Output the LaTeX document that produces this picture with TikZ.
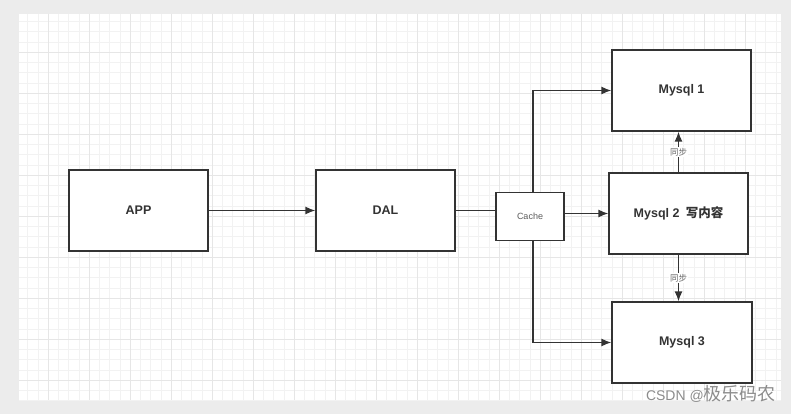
\documentclass[tikz,border=0pt]{standalone}
\usepackage{fontspec}
\setmainfont{Liberation Sans}
\newfontfamily\cjk{Noto Sans CJK SC}
\usetikzlibrary{arrows.meta,calc}
\definecolor{bggrey}{HTML}{ECECEC}
\definecolor{minorgrid}{HTML}{F2F2F2}
\definecolor{majorgrid}{HTML}{E6E6E6}
\definecolor{ink}{HTML}{333333}
\tikzset{
  box/.style={draw=ink, line width=1.3pt, fill=white, minimum width=139pt, minimum height=81pt, inner sep=0pt, font=\fontsize{12.5}{14}\selectfont\bfseries, text=ink},
  cachebox/.style={draw=ink, line width=1.3pt, fill=white, minimum width=68pt, minimum height=48.5pt, inner sep=0pt, font=\fontsize{9}{11}\selectfont, text=ink!80},
  conn/.style={draw=ink, line width=1.3pt},
  arr/.style={conn, -{Latex[length=10pt,width=8pt]}},
  synclabel/.style={fill=white, inner sep=1pt, font=\cjk\fontsize{8.5}{10}\selectfont, text=ink!75},
}
\begin{document}
\begin{tikzpicture}[x=1pt,y=-1pt]
  \useasboundingbox (0,0) rectangle (791,414);
  \fill[bggrey] (0,0) rectangle (791,414);
  \fill[white] (19,14) rectangle (781,400);
  \begin{scope}
    \clip (19,14) rectangle (781,400);
    \foreach \i in {-4,...,72} {
      \draw[minorgrid, line width=0.7pt] ({48.3+10.25*\i},14) -- ({48.3+10.25*\i},400);
    }
    \foreach \i in {-4,...,36} {
      \draw[minorgrid, line width=0.7pt] (19,{52.3+10.25*\i}) -- (781,{52.3+10.25*\i});
    }
    \foreach \i in {-1,...,18} {
      \draw[majorgrid, line width=0.8pt] ({48.3+41*\i},14) -- ({48.3+41*\i},400);
    }
    \foreach \i in {-1,...,9} {
      \draw[majorgrid, line width=0.8pt] (19,{52.3+41*\i}) -- (781,{52.3+41*\i});
    }
  \end{scope}

  \node[box] (app) at (138.5,210.5) {APP};
  \node[box] (dal) at (385.5,210.5) {DAL};
  \node[cachebox] (cache) at (530,216.5) {Cache};
  \node[box] (m2) at (678.5,213.5) {Mysql 2\hspace{0.5em}{\cjk 写内容}};
  \node[box] (m1) at (681.5,90.5) {Mysql 1};
  \node[box, minimum width=140pt] (m3) at (682,342.5) {Mysql 3};

  \draw[arr] (app.east) -- (dal.west);
  \draw[conn] (dal.east) -- (dal.east -| cache.west);
  \draw[arr] (cache.east |- m2.west) -- (m2.west);
  \draw[arr] ([xshift=3pt]cache.north) |- (m1.west);
  \draw[arr] ([xshift=3pt]cache.south) |- (m3.west);
  \draw[arr] (m2.north) -- node[synclabel] (s1) {同步} (m2.north |- m1.south);
  \draw[arr] (m2.south) -- node[synclabel] (s2) {同步} (m2.south |- m3.north);

  \node[anchor=base east, text=black!45, inner sep=0pt] (wm) at (776,400)
    {\fontsize{14}{16}\selectfont CSDN @{\cjk\fontsize{18}{18}\selectfont 极乐码农}};
\end{tikzpicture}
\end{document}
